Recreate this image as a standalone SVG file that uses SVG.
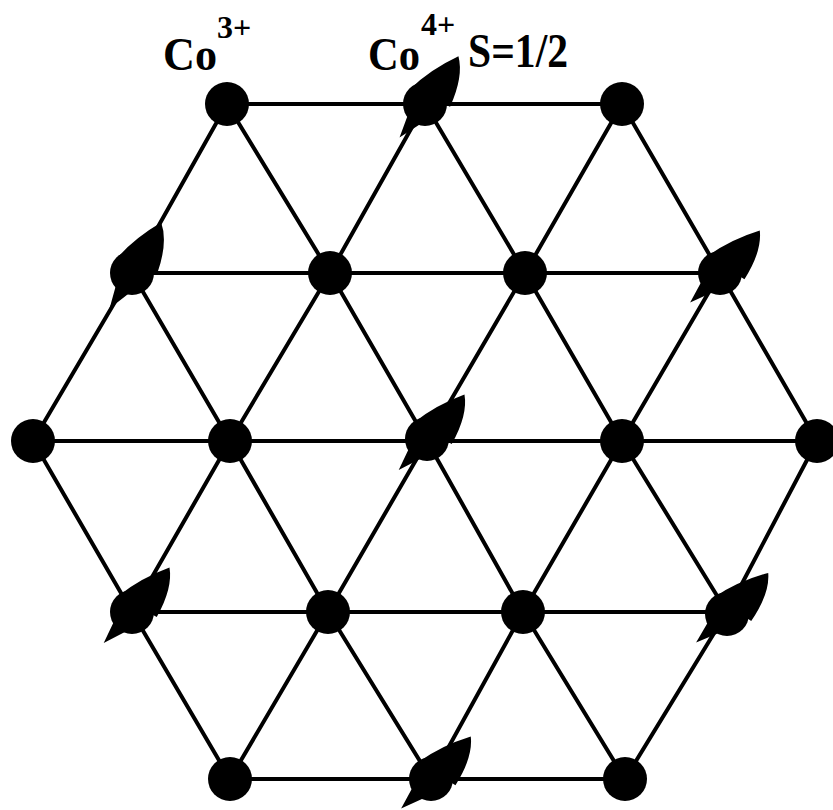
<svg xmlns="http://www.w3.org/2000/svg" width="833" height="810" viewBox="0 0 833 810">
<style>
.e{stroke:#000;stroke-width:4;stroke-linecap:round;fill:none}
.b{fill:#000}
.t{font-family:"Liberation Serif","Times New Roman",serif;font-weight:bold;fill:#000}
</style>
<defs>
<path id="spin" d="M 2,-21 Q 30,-18 58,-5 Q 46,12 14,21 Z M -14,-8 L -42,2 L -16,10 Z" fill="#000"/>
</defs>
<rect width="833" height="810" fill="#fff"/>
<g id="connectors">
<line class="e" x1="227" y1="104" x2="622" y2="104"/>
<line class="e" x1="132" y1="273" x2="720" y2="273"/>
<line class="e" x1="33" y1="441" x2="817" y2="441"/>
<line class="e" x1="132" y1="612" x2="727" y2="612"/>
<line class="e" x1="230" y1="779" x2="625" y2="779"/>
<line class="e" x1="227" y1="104" x2="132" y2="273"/>
<line class="e" x1="227" y1="104" x2="330" y2="273"/>
<line class="e" x1="425" y1="104" x2="330" y2="273"/>
<line class="e" x1="425" y1="104" x2="525" y2="273"/>
<line class="e" x1="622" y1="104" x2="525" y2="273"/>
<line class="e" x1="622" y1="104" x2="720" y2="273"/>
<line class="e" x1="132" y1="273" x2="33" y2="441"/>
<line class="e" x1="132" y1="273" x2="230" y2="441"/>
<line class="e" x1="330" y1="273" x2="230" y2="441"/>
<line class="e" x1="330" y1="273" x2="427" y2="441"/>
<line class="e" x1="525" y1="273" x2="427" y2="441"/>
<line class="e" x1="525" y1="273" x2="622" y2="441"/>
<line class="e" x1="720" y1="273" x2="622" y2="441"/>
<line class="e" x1="720" y1="273" x2="817" y2="441"/>
<line class="e" x1="33" y1="441" x2="132" y2="612"/>
<line class="e" x1="230" y1="441" x2="132" y2="612"/>
<line class="e" x1="230" y1="441" x2="328" y2="612"/>
<line class="e" x1="427" y1="441" x2="328" y2="612"/>
<line class="e" x1="427" y1="441" x2="523" y2="612"/>
<line class="e" x1="622" y1="441" x2="523" y2="612"/>
<line class="e" x1="622" y1="441" x2="727" y2="612"/>
<line class="e" x1="817" y1="441" x2="727" y2="612"/>
<line class="e" x1="132" y1="612" x2="230" y2="779"/>
<line class="e" x1="328" y1="612" x2="230" y2="779"/>
<line class="e" x1="328" y1="612" x2="431" y2="779"/>
<line class="e" x1="523" y1="612" x2="431" y2="779"/>
<line class="e" x1="523" y1="612" x2="625" y2="779"/>
<line class="e" x1="727" y1="612" x2="625" y2="779"/>
</g>
<g id="n0a"><circle class="b" cx="227" cy="104" r="22"/></g>
<g id="n0b"><circle class="b" cx="425" cy="104" r="22"/><use href="#spin" transform="translate(425,104) rotate(-50)"/></g>
<g id="n0c"><circle class="b" cx="622" cy="104" r="22"/></g>
<g id="n1a"><circle class="b" cx="132" cy="273" r="22"/><use href="#spin" transform="translate(132,273) rotate(-55)"/></g>
<g id="n1b"><circle class="b" cx="330" cy="273" r="22"/></g>
<g id="n1c"><circle class="b" cx="525" cy="273" r="22"/></g>
<g id="n1d"><circle class="b" cx="720" cy="273" r="22"/><use href="#spin" transform="translate(720,273) rotate(-42)"/></g>
<g id="n2a"><circle class="b" cx="33" cy="441" r="22"/></g>
<g id="n2b"><circle class="b" cx="230" cy="441" r="22"/></g>
<g id="n2c"><circle class="b" cx="427" cy="439" r="22"/><use href="#spin" transform="translate(427,439) rotate(-45)"/></g>
<g id="n2d"><circle class="b" cx="622" cy="441" r="22"/></g>
<g id="n2e"><circle class="b" cx="817" cy="441" r="22"/></g>
<g id="n3a"><circle class="b" cx="132" cy="612" r="22"/><use href="#spin" transform="translate(132,612) rotate(-45)"/></g>
<g id="n3b"><circle class="b" cx="328" cy="612" r="22"/></g>
<g id="n3c"><circle class="b" cx="523" cy="612" r="22"/></g>
<g id="n3d"><circle class="b" cx="727" cy="614" r="22"/><use href="#spin" transform="translate(727,614) rotate(-40)"/></g>
<g id="n4a"><circle class="b" cx="230" cy="779" r="22"/></g>
<g id="n4b"><circle class="b" cx="431" cy="779" r="22"/><use href="#spin" transform="translate(431,779) rotate(-42)"/></g>
<g id="n4c"><circle class="b" cx="625" cy="779" r="22"/></g>
<g id="labels">
<text class="t" x="163" y="70" font-size="46" textLength="54" lengthAdjust="spacingAndGlyphs">Co</text>
<text class="t" x="217" y="38" font-size="32">3+</text>
<text class="t" x="368" y="70" font-size="46" textLength="52" lengthAdjust="spacingAndGlyphs">Co</text>
<text class="t" x="421" y="35" font-size="32">4+</text>
<text class="t" x="468" y="67" font-size="48" textLength="100" lengthAdjust="spacingAndGlyphs">S=1/2</text>
</g>
</svg>
